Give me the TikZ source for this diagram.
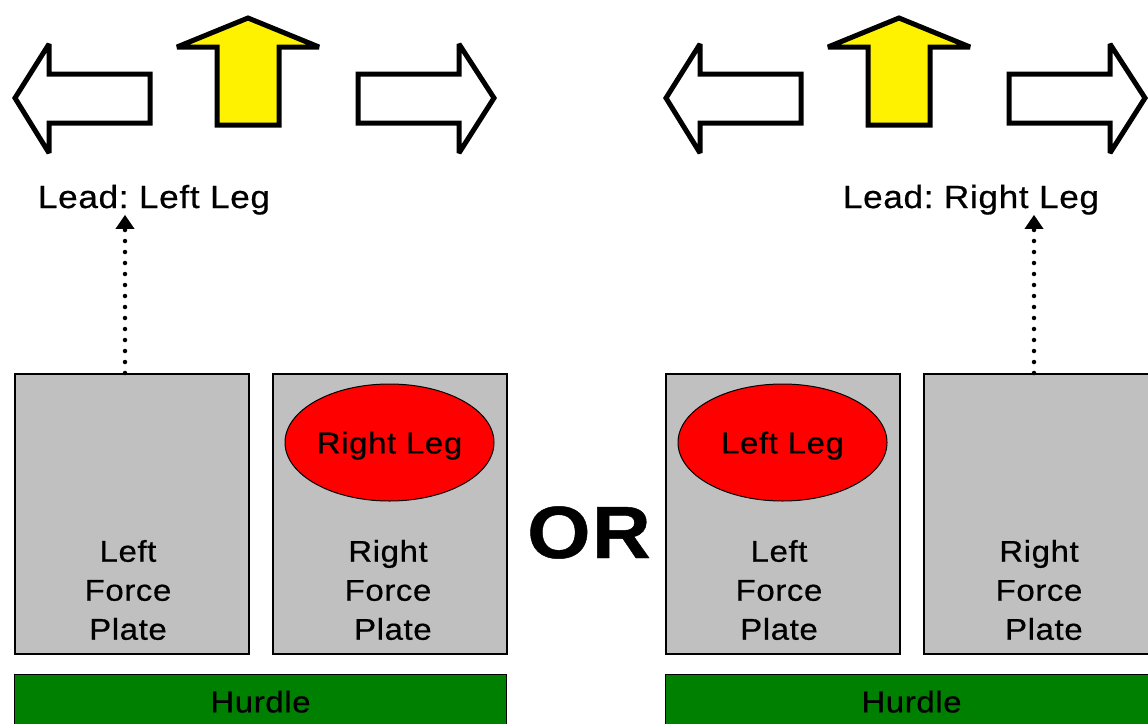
\documentclass[tikz,border=0pt]{standalone}
\usepackage{fontspec}
\setmainfont{Liberation Sans}[FakeStretch=1.1, LetterSpace=2, FakeBold=0.6]
\usetikzlibrary{arrows.meta, shapes.geometric}

\definecolor{plategray}{RGB}{192,192,192}
\definecolor{hurdlegreen}{RGB}{0,128,0}

\tikzset{
  dirarrow/.style={draw, line width=5pt, line join=miter, miter limit=3, fill=white},
  plate/.style={draw, fill=plategray, line width=1.5pt, minimum width=234pt, minimum height=280pt, inner sep=0pt, anchor=north west},
  platetext/.style={align=center, inner sep=0pt, font=\fontsize{30}{39}\selectfont},
  legmark/.style={ellipse, draw, line width=1pt, fill=red, minimum width=209pt, minimum height=117pt, inner sep=0pt, text depth=0pt, font=\fontsize{30}{36}\selectfont},
  hurdlebar/.style={draw, fill=hurdlegreen, line width=1pt, minimum width=492pt, minimum height=54pt, inner sep=0pt, anchor=north west, text depth=0pt, font=\fontsize{30}{36}\selectfont},
  leadtext/.style={inner sep=0pt, anchor=base, font=\fontsize{32}{38}\selectfont},
  leadline/.style={line width=4.5pt, line cap=round, dash pattern=on 0pt off 11pt, -{Triangle[width=18pt,length=14pt]}}
}

\begin{document}
\begin{tikzpicture}[x=1pt, y=-1pt]
  \fill[white] (0,0) rectangle (1148,723);
  \path[use as bounding box, clip] (0,0) rectangle (1148,723);

  % two identical set-ups, side by side
  \foreach \g/\dx in {a/0, b/651} {
    \begin{scope}[xshift=\dx]
      % left / up / right arrows
      \draw[dirarrow] (15,98) -- (49,44) -- (49,74) -- (150,74) -- (150,123) -- (49,123) -- (49,153) -- cycle;
      \draw[dirarrow, fill=yellow] (248,18) -- (319,47) -- (279,47) -- (279,125) -- (217,125) -- (217,47) -- (177,47) -- cycle;
      \draw[dirarrow] (358,74) -- (459,74) -- (459,44) -- (494,98) -- (459,153) -- (459,123) -- (358,123) -- cycle;

      % force plates
      \node[plate] (lp\g) at (14,373) {};
      \node[plate] (rp\g) at (272,373) {};
      \node[platetext] (lpt\g) at (128,590) {Left\\Force\\Plate};
      \node[platetext] (rpt\g) at (388,590) {Right\\Force\\~Plate};

      % hurdle
      \node[hurdlebar] (h\g) at (14,674) {Hurdle};
    \end{scope}
  }

  \node[legmark] (legR) at (389.5,442.5) {Right Leg};
  \node[legmark] (legL) at (782.5,442.5) {Left Leg};

  \node[font=\fontsize{74}{80}\selectfont\bfseries, inner sep=0pt, anchor=base] (or) at (589,558) {OR};

  % lead leg labels
  \node[leadtext] (leadL) at (154,208) {Lead:\ Left Leg};
  \node[leadtext] (leadR) at (971,208) {Lead:\ Right Leg};

  \coordinate (footL) at (125,373);
  \coordinate (footR) at (1034,373);
  \draw[leadline] (footL) -- (footL |- leadL.south);
  \draw[leadline] (footR) -- (footR |- leadR.south);
\end{tikzpicture}
\end{document}
